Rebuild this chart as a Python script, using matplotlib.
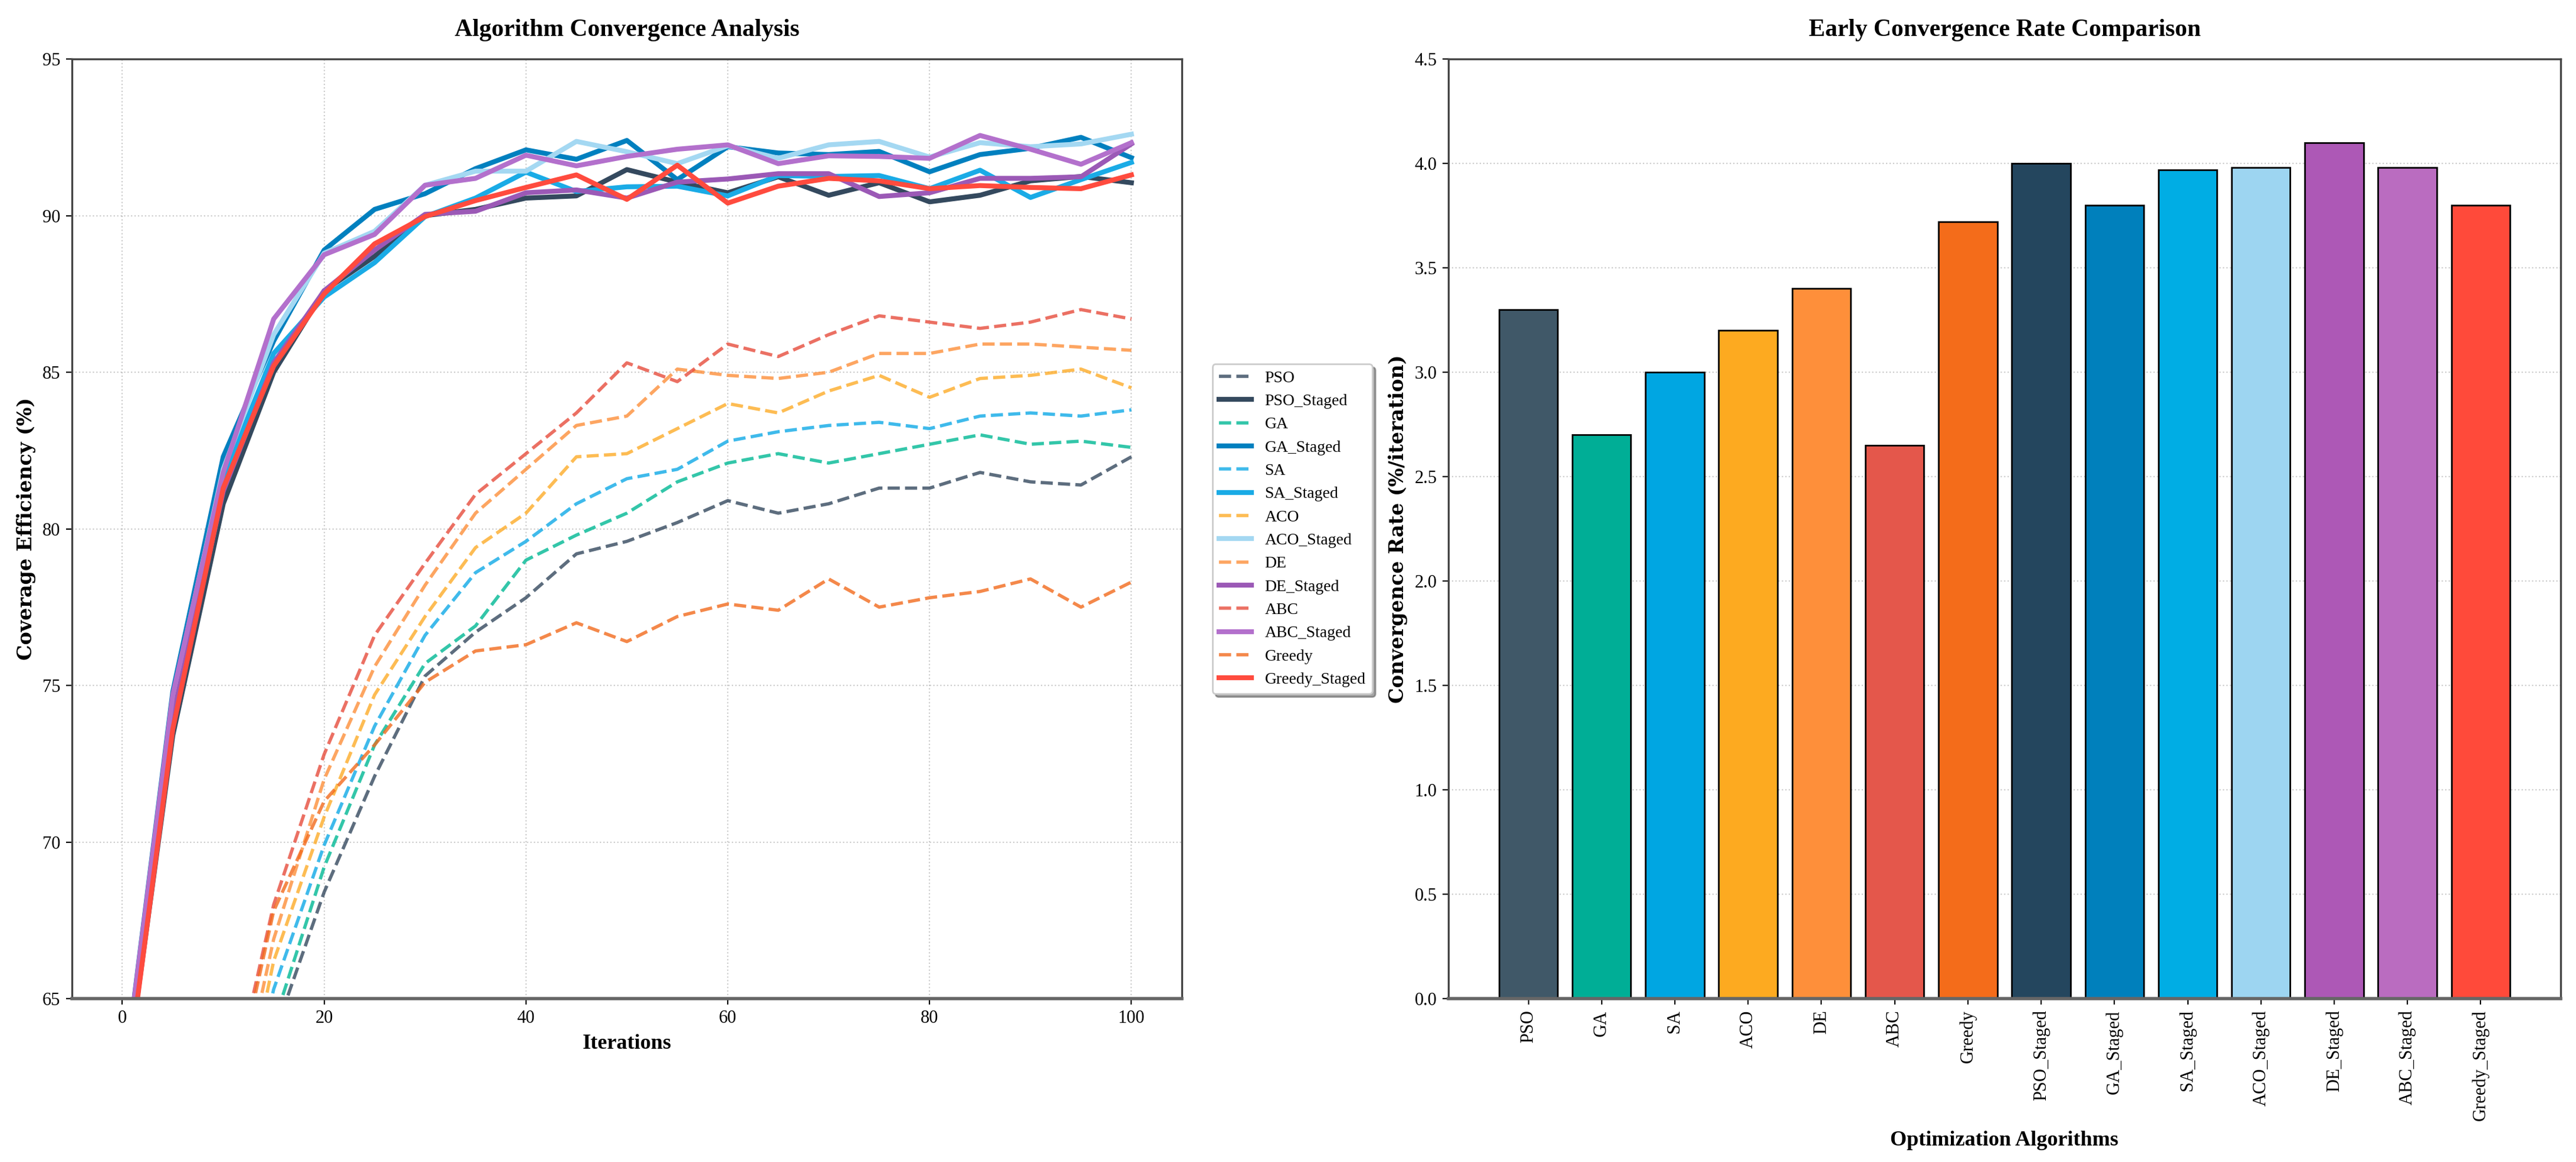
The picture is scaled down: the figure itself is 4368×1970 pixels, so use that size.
import matplotlib
matplotlib.use("Agg")
import matplotlib.pyplot as plt
import numpy as np

plt.rcParams['font.family'] = 'serif'
plt.rcParams['font.serif'] = ['Liberation Serif', 'DejaVu Serif']

iterations = np.arange(0, 101, 5)

# baseline algorithms (dashed)
pso = [40.0, 50.5, 57.5, 63.8, 68.4, 72.1, 75.3, 76.7, 77.8, 79.2, 79.6, 80.2, 80.9, 80.5, 80.8, 81.3, 81.3, 81.8, 81.5, 81.4, 82.3]
ga = [40.5, 51.0, 58.0, 64.2, 69.2, 73.1, 75.7, 76.9, 79.0, 79.8, 80.5, 81.5, 82.1, 82.4, 82.1, 82.4, 82.7, 83.0, 82.7, 82.8, 82.6]
sa = [41.0, 51.5, 58.3, 65.3, 69.9, 73.7, 76.6, 78.6, 79.6, 80.8, 81.6, 81.9, 82.8, 83.1, 83.3, 83.4, 83.2, 83.6, 83.7, 83.6, 83.8]
aco = [41.5, 52.0, 58.5, 66.2, 70.8, 74.7, 77.2, 79.4, 80.5, 82.3, 82.4, 83.2, 84.0, 83.7, 84.4, 84.9, 84.2, 84.8, 84.9, 85.1, 84.5]
de = [42.0, 52.5, 59.5, 66.9, 72.0, 75.6, 78.2, 80.5, 81.9, 83.3, 83.6, 85.1, 84.9, 84.8, 85.0, 85.6, 85.6, 85.9, 85.9, 85.8, 85.7]
abc = [43.0, 53.5, 60.9, 68.0, 72.8, 76.6, 78.9, 81.1, 82.4, 83.7, 85.3, 84.7, 85.9, 85.5, 86.2, 86.8, 86.6, 86.4, 86.6, 87.0, 86.7]
greedy = [43.0, 53.5, 60.5, 67.8, 71.3, 73.1, 75.1, 76.1, 76.3, 77.0, 76.4, 77.2, 77.6, 77.4, 78.4, 77.5, 77.8, 78.0, 78.4, 77.5, 78.3]

# staged variants (solid)
pso_staged = [61.5, 73.4, 80.8, 85.0, 87.6, 88.7, 90.0, 90.2, 90.56, 90.63, 91.47, 91.07, 90.73, 91.24, 90.65, 91.05, 90.44, 90.65, 91.11, 91.25, 91.05]
ga_staged = [62.0, 74.8, 82.3, 86.0, 88.9, 90.2, 90.7, 91.5, 92.1, 91.8, 92.4, 91.15, 92.2, 92.0, 91.95, 92.05, 91.4, 91.95, 92.15, 92.5, 91.85]
sa_staged = [61.8, 74.4, 81.6, 85.6, 87.4, 88.5, 89.97, 90.56, 91.39, 90.77, 90.92, 90.94, 90.63, 91.28, 91.25, 91.28, 90.86, 91.45, 90.58, 91.15, 91.7]
aco_staged = [61.8, 74.6, 81.9, 86.2, 88.8, 89.5, 90.97, 91.42, 91.42, 92.37, 92.04, 91.66, 92.23, 91.83, 92.26, 92.37, 91.87, 92.33, 92.2, 92.29, 92.6]
de_staged = [61.6, 74.0, 81.2, 85.3, 87.6, 88.9, 90.04, 90.14, 90.73, 90.82, 90.56, 91.07, 91.17, 91.34, 91.34, 90.61, 90.73, 91.19, 91.19, 91.24, 92.29]
abc_staged = [62.0, 74.7, 81.8, 86.7, 88.75, 89.4, 90.97, 91.19, 91.93, 91.59, 91.89, 92.12, 92.26, 91.66, 91.91, 91.89, 91.83, 92.56, 92.12, 91.64, 92.33]
greedy_staged = [61.3, 73.6, 81.3, 85.2, 87.5, 89.1, 89.97, 90.48, 90.9, 91.3, 90.52, 91.61, 90.4, 90.94, 91.19, 91.11, 90.86, 90.96, 90.9, 90.86, 91.3]

algorithms = ['PSO', 'GA', 'SA', 'ACO', 'DE', 'ABC', 'Greedy',
              'PSO_Staged', 'GA_Staged', 'SA_Staged', 'ACO_Staged', 'DE_Staged', 'ABC_Staged', 'Greedy_Staged']
rates = [3.30, 2.70, 3.00, 3.20, 3.40, 2.65, 3.72, 4.00, 3.80, 3.97, 3.98, 4.10, 3.98, 3.80]

base_colors = {'PSO': '#34495e', 'GA': '#00b894', 'SA': '#0fa9e6', 'ACO': '#fdab28',
               'DE': '#fd8f3a', 'ABC': '#e74c3c', 'Greedy': '#f26b1d'}
staged_colors = {'PSO': '#34495e', 'GA': '#0080bf', 'SA': '#1aabe6', 'ACO': '#a4d8f2',
                 'DE': '#9b59b6', 'ABC': '#b370cc', 'Greedy': '#ff4b3e'}
bar_colors = ['#405868', '#00ae96', '#00a6e2', '#fdaa20', '#fe8f3a', '#e4574b', '#f46c1a',
              '#24465e', '#0080bc', '#00ade4', '#9dd5f1', '#ad58b6', '#ba6cc0', '#ff4a3a']

pairs = [('PSO', pso, pso_staged), ('GA', ga, ga_staged), ('SA', sa, sa_staged),
         ('ACO', aco, aco_staged), ('DE', de, de_staged), ('ABC', abc, abc_staged),
         ('Greedy', greedy, greedy_staged)]

fig = plt.figure(figsize=(21.84, 9.85), dpi=200)
ax1 = fig.add_axes([0.0279, 0.1406, 0.4309, 0.8086])
ax2 = fig.add_axes([0.5623, 0.1406, 0.4317, 0.8086])

for name, base, staged in pairs:
    ax1.plot(iterations, base, '--', color=base_colors[name], lw=2.0, alpha=0.8, label=name)
    ax1.plot(iterations, staged, '-', color=staged_colors[name], lw=3.0, label=name + '_Staged')

ax1.set_ylim(65, 95)
ax1.set_xlim(-5, 105)
ax1.set_title('Algorithm Convergence Analysis', fontsize=15, fontweight='bold', pad=14)
ax1.set_xlabel('Iterations', fontsize=13, fontweight='bold')
ax1.set_ylabel('Coverage Efficiency (%)', fontsize=12, fontweight='bold', family='DejaVu Serif')
ax1.grid(True, linestyle=':', color='gray', alpha=0.4)
ax1.tick_params(labelsize=11)
ax1.legend(loc='center left', bbox_to_anchor=(1.02, 0.5), fontsize=10, shadow=True, frameon=True)

x = np.arange(len(algorithms))
ax2.bar(x, rates, 0.8, color=bar_colors, edgecolor='black', linewidth=1.0)
ax2.set_xticks(x)
ax2.set_xticklabels(algorithms, rotation=90, fontsize=11)
ax2.set_ylim(0, 4.5)
ax2.set_yticks(np.arange(0, 4.51, 0.5))
ax2.set_title('Early Convergence Rate Comparison', fontsize=15, fontweight='bold', pad=14)
ax2.set_xlabel('Optimization Algorithms', fontsize=13, fontweight='bold', labelpad=6)
ax2.set_ylabel('Convergence Rate (%/iteration)', fontsize=12, fontweight='bold', family='DejaVu Serif')
ax2.grid(True, axis='y', linestyle=':', color='gray', alpha=0.4)
ax2.set_axisbelow(True)
ax2.tick_params(labelsize=11)

for ax in (ax1, ax2):
    for side in ax.spines.values():
        side.set_color('#444444')
        side.set_linewidth(1.2)
    ax.spines['bottom'].set_linewidth(2.0)
    ax.spines['bottom'].set_color('#666666')

fig.savefig('out.png', dpi=200)
